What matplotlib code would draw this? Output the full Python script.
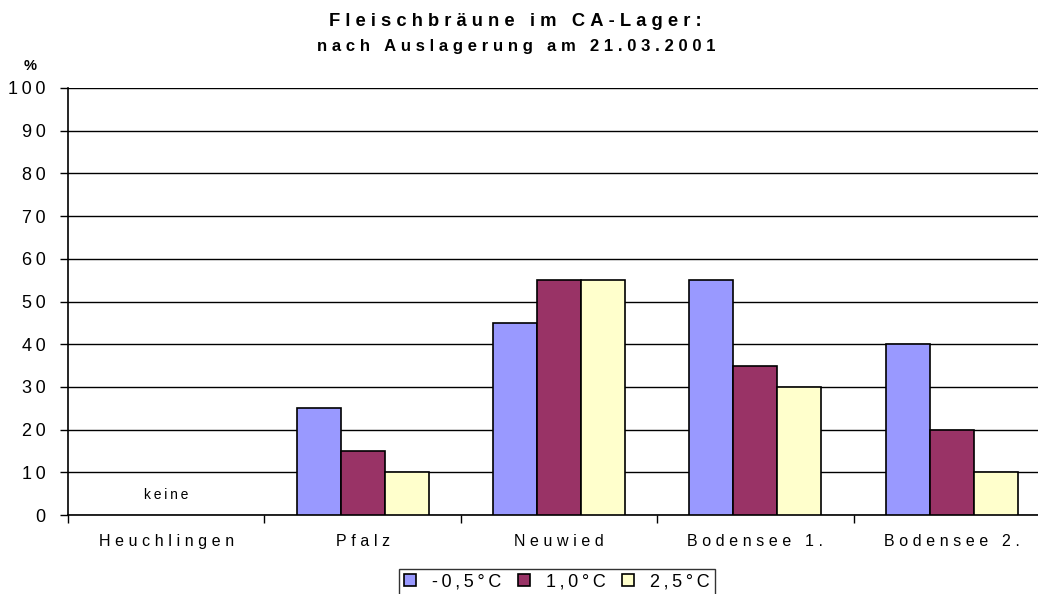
import numpy as np
import matplotlib
matplotlib.use('Agg')
import matplotlib.pyplot as plt
from matplotlib.patches import Patch

plt.rcParams['font.family'] = ['Liberation Sans', 'DejaVu Sans']

# Data
regions = ['Heuchlingen', 'Pfalz', 'Neuwied', 'Bodensee 1.', 'Bodensee 2.']
temps = ['-0,5°C', '1,0°C', '2,5°C']
vals_m05 = [0, 25, 45, 55, 40]
vals_10 = [0, 15, 55, 35, 20]
vals_25 = [0, 10, 55, 30, 10]
colors = ['#9999FF', '#993366', '#FFFFCC']
yticks = list(range(0, 101, 10))


def spaced(s, sep='\u2009'):
    # mimic the wide letter spacing of the original chart
    return sep.join(s)


fig = plt.figure(figsize=(10.38, 5.94), dpi=100)
ax = fig.add_axes([68 / 1038, 79 / 594, (1050 - 68) / 1038, (515 - 88) / 594])

x = np.arange(len(regions))
w = 0.224
handles = []
for i, (vals, c, lab) in enumerate(zip([vals_m05, vals_10, vals_25], colors, temps)):
    bars = ax.bar(x + (i - 1) * w, vals, width=w, color=c, edgecolor='black',
                  linewidth=1.2, zorder=3)
    for b, v in zip(bars, vals):
        if v == 0:
            b.set_visible(False)  # "keine" -> nothing drawn
    handles.append(Patch(facecolor=c, edgecolor='black', linewidth=1.2,
                         label=spaced(lab)))

ax.set_xlim(-0.5, len(regions) - 0.5)
ax.set_ylim(0, 100)
ax.set_yticks(yticks)
ax.set_yticklabels([spaced(str(t)) for t in yticks], fontsize=13)
ax.yaxis.grid(True, color='black', linewidth=1, zorder=0)
ax.set_axisbelow(True)

ax.set_xticks(x)
ax.set_xticklabels([spaced(r, '\u2009\u200a') for r in regions], fontsize=11.5)
ax.tick_params(axis='x', length=0, pad=14)
ax.set_xticks(np.arange(len(regions) + 1) - 0.5, minor=True)
ax.tick_params(axis='x', which='minor', length=6, width=1, direction='out')
ax.tick_params(axis='y', length=6, width=1, direction='out', pad=10)

for s in ['top', 'right']:
    ax.spines[s].set_visible(False)
ax.spines['left'].set_linewidth(1.2)
ax.spines['bottom'].set_linewidth(1.2)

ax.text(0, 4.7, spaced('keine'), ha='center', va='center', fontsize=10)

fig.text(515 / 1038, 1 - 21 / 594, spaced('Fleischbräune im CA-Lager:', '\u2009\u200a'),
         ha='center', va='center', fontsize=13.2, fontweight='bold')
fig.text(516 / 1038, 1 - 47 / 594, spaced('nach Auslagerung am 21.03.2001', '\u2009\u200a'),
         ha='center', va='center', fontsize=12, fontweight='bold')
fig.text(30 / 1038, 1 - 66 / 594, '%', ha='center', va='center',
         fontsize=10.5, fontweight='bold')

leg = fig.legend(handles=handles, loc='upper center',
                 bbox_to_anchor=(557 / 1038, 1 - 569 / 594),
                 ncol=3, fontsize=13, frameon=True, fancybox=False,
                 edgecolor='black', handlelength=0.67, handleheight=0.67,
                 handletextpad=0.9, columnspacing=0.9, borderpad=0.25,
                 borderaxespad=0)
leg.get_frame().set_linewidth(1)

fig.savefig('out.png', dpi=100)
